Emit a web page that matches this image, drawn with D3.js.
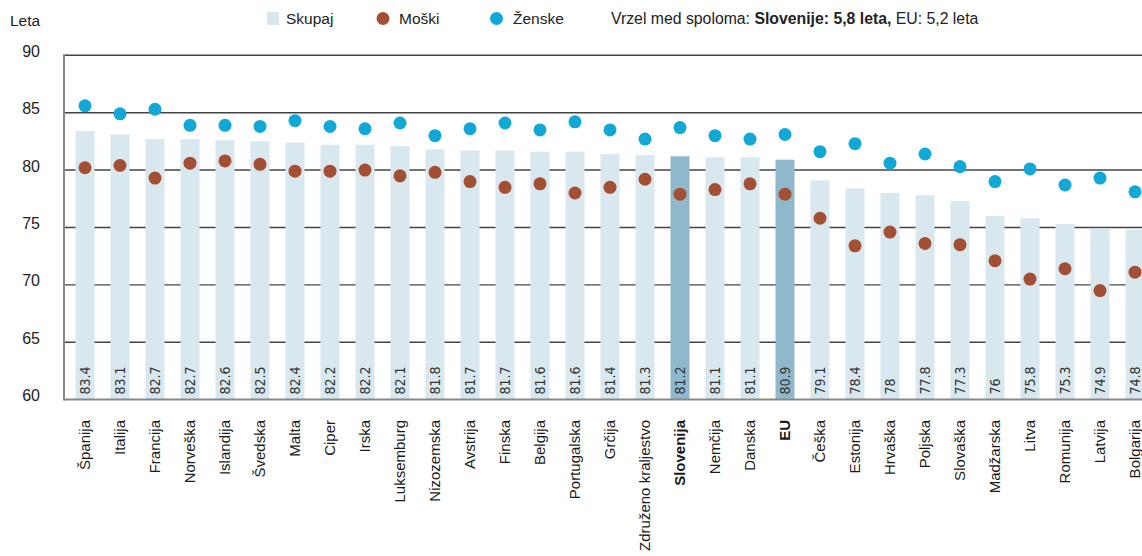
<!DOCTYPE html>
<html><head><meta charset="utf-8">
<script src="https://cdn.jsdelivr.net/npm/d3@7"></script>
<style>
body{margin:0;background:#fff}
svg{display:block;font-family:"Liberation Sans",Arial,sans-serif}
</style>
</head><body>
<svg id="c" width="1142" height="556"></svg>
<script>
const categories = ["Španija","Italija","Francija","Norveška","Islandija","Švedska","Malta","Ciper","Irska","Luksemburg","Nizozemska","Avstrija","Finska","Belgija","Portugalska","Grčija","Združeno kraljestvo","Slovenija","Nemčija","Danska","EU","Češka","Estonija","Hrvaška","Poljska","Slovaška","Madžarska","Litva","Romunija","Latvija","Bolgarija"];
const total = [83.4,83.1,82.7,82.7,82.6,82.5,82.4,82.2,82.2,82.1,81.8,81.7,81.7,81.6,81.6,81.4,81.3,81.2,81.1,81.1,80.9,79.1,78.4,78,77.8,77.3,76,75.8,75.3,74.9,74.8];
const men = [80.2,80.4,79.3,80.6,80.8,80.5,79.9,79.9,80.0,79.5,79.8,79.0,78.5,78.8,78.0,78.5,79.2,77.9,78.3,78.8,77.9,75.8,73.4,74.6,73.6,73.5,72.1,70.5,71.4,69.5,71.1];
const women = [85.6,84.9,85.3,83.9,83.9,83.8,84.3,83.8,83.6,84.1,83.0,83.6,84.1,83.5,84.2,83.5,82.7,83.7,83.0,82.7,83.1,81.6,82.3,80.6,81.4,80.3,79.0,80.1,78.7,79.3,78.1];
const highlighted = ["Slovenija","EU"];
const yTicks = [60,65,70,75,80,85,90];
const legendLabels = ["Skupaj","Moški","Ženske"];
const axisTitle = "Leta";
const gapPrefix = "Vrzel med spoloma: ";
const gapBold = "Slovenije: 5,8 leta,";
const gapSuffix = " EU: 5,2 leta";

const svg = d3.select("#c");
const COL_BAR = "#d9e7ef", COL_BAR_HI = "#90b8cd", COL_MEN = "#a34f34", COL_WOMEN = "#12a8d6";
const left = 64, right = 1142;
const y = d3.scaleLinear().domain([60,90]).range([399.6,55.3]);
const x = d3.scalePoint().domain(categories).range([85,1135]);
const barW = 19;

// gridlines
svg.append("g").selectAll("line").data(yTicks.filter(t=>t>60)).join("line")
  .attr("x1",left).attr("x2",right).attr("y1",d=>y(d)).attr("y2",d=>y(d))
  .attr("stroke","#444").attr("stroke-width",1.4);

// y tick labels
svg.append("g").selectAll("text").data(yTicks).join("text")
  .attr("x",40).attr("y",d=>y(d)+1.5).attr("text-anchor","end")
  .attr("font-size",16).attr("fill","#222").text(d=>d);

svg.append("text").attr("x",10).attr("y",25.5).attr("font-size",15.5).attr("fill","#222").text(axisTitle);

// bars
svg.append("g").selectAll("rect").data(categories).join("rect")
  .attr("x",d=>x(d)-barW/2).attr("width",barW)
  .attr("y",(d,i)=>y(total[i])).attr("height",(d,i)=>y(60)-y(total[i]))
  .attr("fill",d=>highlighted.includes(d)?COL_BAR_HI:COL_BAR);

// baseline & left axis
svg.append("line").attr("x1",left).attr("x2",right).attr("y1",y(60)).attr("y2",y(60))
  .attr("stroke","#888").attr("stroke-width",2);
svg.append("line").attr("x1",left).attr("x2",left).attr("y1",y(90)-1).attr("y2",y(60)+1)
  .attr("stroke","#888").attr("stroke-width",2);

// bar value labels
svg.append("g").selectAll("text").data(categories).join("text")
  .attr("transform",d=>`translate(${x(d)},${y(60)-5}) rotate(-90)`)
  .attr("dy","0.36em").attr("text-anchor","start")
  .attr("font-family",'"Liberation Sans Narrow","DejaVu Sans Condensed",sans-serif')
  .attr("font-size",14).attr("fill","#333")
  .text((d,i)=>String(total[i]));

// dots
svg.append("g").selectAll("circle").data(categories).join("circle")
  .attr("cx",d=>x(d)).attr("cy",(d,i)=>y(men[i])).attr("r",6.5).attr("fill",COL_MEN);
svg.append("g").selectAll("circle").data(categories).join("circle")
  .attr("cx",d=>x(d)).attr("cy",(d,i)=>y(women[i])).attr("r",6.5).attr("fill",COL_WOMEN);

// category labels
svg.append("g").selectAll("text").data(categories).join("text")
  .attr("transform",d=>`translate(${x(d)},420) rotate(-90)`)
  .attr("dy","0.36em").attr("text-anchor","end")
  .attr("font-size",15).attr("fill","#1a1a1a")
  .attr("font-weight",d=>highlighted.includes(d)?"bold":"normal")
  .text(d=>d);

// legend
const lg = svg.append("g").attr("font-size",15.5).attr("fill","#222");
lg.append("rect").attr("x",267).attr("y",12).attr("width",12).attr("height",13).attr("fill",COL_BAR);
lg.append("text").attr("x",286).attr("y",24).text(legendLabels[0]);
lg.append("circle").attr("cx",383).attr("cy",18.5).attr("r",6.5).attr("fill",COL_MEN);
lg.append("text").attr("x",399).attr("y",24).text(legendLabels[1]);
lg.append("circle").attr("cx",496.5).attr("cy",18.5).attr("r",6.5).attr("fill",COL_WOMEN);
lg.append("text").attr("x",513).attr("y",24).text(legendLabels[2]);
const gt = lg.append("text").attr("x",611).attr("y",24).attr("font-size",15.8);
gt.append("tspan").text(gapPrefix);
gt.append("tspan").attr("font-weight","bold").text(gapBold);
gt.append("tspan").text(gapSuffix);
</script>
</body></html>
